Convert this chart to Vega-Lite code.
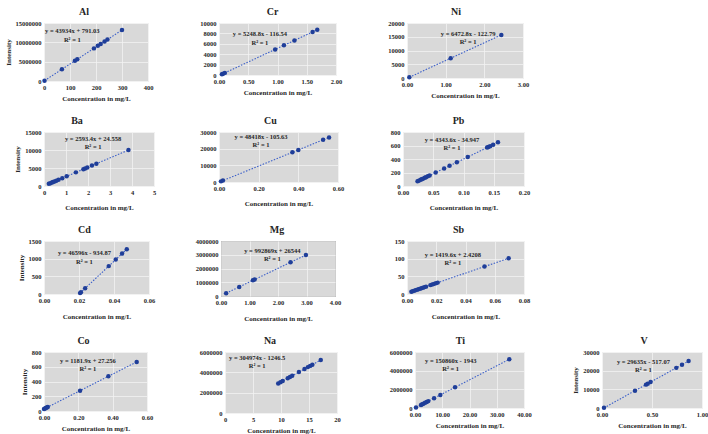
{
  "$schema": "https://vega.github.io/schema/vega-lite/v6.json",
  "background": "white",
  "padding": {"left": 3, "top": 6, "right": 0, "bottom": 0},
  "autosize": {"type": "pad"},
  "config": {
    "font": "Liberation Serif",
    "view": {"fill": "#d9d9d9", "stroke": "#efefef", "strokeWidth": 1},
    "axis": {
      "labelFont": "Liberation Serif", "labelFontSize": 6.5, "labelFontWeight": "bold", "labelColor": "#262626",
      "titleFont": "Liberation Serif", "titleFontSize": 7, "titleFontWeight": "bold", "titleColor": "#262626",
      "gridColor": "#f2f2f2", "gridWidth": 0.8, "domain": false, "ticks": false,
      "labelPadding": 3, "titlePadding": 4, "labelFlush": false, "labelOverlap": false
    },
    "title": {"font": "Liberation Serif", "fontSize": 10, "fontWeight": "bold", "color": "#262626", "offset": 3, "frame": "group", "anchor": "middle"},
    "circle": {"size": 20, "color": "#1f3e99", "opacity": 1},
    "line": {"color": "#3b5fc9", "strokeDash": [1.5, 1.5], "strokeWidth": 1.1},
    "text": {"font": "Liberation Serif", "fontSize": 6.5, "fontWeight": "bold", "baseline": "top", "align": "center", "lineHeight": 8.5, "color": "#262626", "lineBreak": "\n"}
  },
  "datasets": {
    "Al": [{"x":2,"y":88659},{"x":69,"y":3032237},{"x":119,"y":5228937},{"x":128,"y":5624343},{"x":192,"y":8435319},{"x":207,"y":9094329},{"x":218,"y":9577603},{"x":233,"y":10236613},{"x":244,"y":10719887},{"x":300,"y":13180991}],
    "Cr": [{"x":0.05,"y":146},{"x":0.07,"y":251},{"x":0.1,"y":408},{"x":0.96,"y":4922},{"x":1.11,"y":5710},{"x":1.29,"y":6654},{"x":1.6,"y":8282},{"x":1.68,"y":8701}],
    "Ni": [{"x":0.06,"y":266},{"x":1.13,"y":7191},{"x":2.44,"y":15672}],
    "Ba": [{"x":0.22,"y":595},{"x":0.29,"y":777},{"x":0.36,"y":958},{"x":0.41,"y":1088},{"x":0.48,"y":1269},{"x":0.56,"y":1477},{"x":0.66,"y":1736},{"x":0.83,"y":2177},{"x":1.03,"y":2696},{"x":1.45,"y":3785},{"x":1.79,"y":4667},{"x":1.87,"y":4874},{"x":1.97,"y":5134},{"x":2.18,"y":5678},{"x":2.38,"y":6197},{"x":3.84,"y":9983}],
    "Cu": [{"x":0.01,"y":379},{"x":0.02,"y":863},{"x":0.37,"y":17809},{"x":0.4,"y":19262},{"x":0.525,"y":25314},{"x":0.555,"y":26766}],
    "Pb": [{"x":0.024,"y":69.3},{"x":0.026,"y":78.0},{"x":0.029,"y":91.0},{"x":0.031,"y":99.7},{"x":0.033,"y":108.4},{"x":0.036,"y":121.4},{"x":0.038,"y":130.1},{"x":0.041,"y":143.1},{"x":0.044,"y":156.2},{"x":0.054,"y":199.6},{"x":0.068,"y":260.4},{"x":0.077,"y":299.5},{"x":0.089,"y":351.6},{"x":0.107,"y":429.8},{"x":0.139,"y":568.8},{"x":0.141,"y":577.5},{"x":0.144,"y":590.5},{"x":0.149,"y":612.3},{"x":0.157,"y":647.0}],
    "Cd": [{"x":0.0206,"y":25.0},{"x":0.0211,"y":48.3},{"x":0.0235,"y":160.1},{"x":0.037,"y":789.2},{"x":0.041,"y":975.6},{"x":0.0446,"y":1143.3},{"x":0.0473,"y":1269.1}],
    "Mg": [{"x":0.18,"y":205260},{"x":0.64,"y":661980},{"x":1.12,"y":1138557},{"x":1.18,"y":1198129},{"x":2.44,"y":2449144},{"x":2.98,"y":2985294}],
    "Sb": [{"x":0.003,"y":6.68},{"x":0.004,"y":8.1},{"x":0.005,"y":9.52},{"x":0.006,"y":10.94},{"x":0.007,"y":12.36},{"x":0.008,"y":13.78},{"x":0.009,"y":15.2},{"x":0.01,"y":16.62},{"x":0.011,"y":18.04},{"x":0.012,"y":19.46},{"x":0.013,"y":20.87},{"x":0.016,"y":25.13},{"x":0.017,"y":26.55},{"x":0.018,"y":27.97},{"x":0.019,"y":29.39},{"x":0.02,"y":30.81},{"x":0.021,"y":32.23},{"x":0.053,"y":77.66},{"x":0.0695,"y":101.08}],
    "Co": [{"x":0.0,"y":27.3},{"x":0.006,"y":34.3},{"x":0.011,"y":40.3},{"x":0.016,"y":46.2},{"x":0.022,"y":53.3},{"x":0.21,"y":275.5},{"x":0.375,"y":470.5},{"x":0.54,"y":665.5}],
    "Na": [{"x":9.5,"y":2896007},{"x":9.9,"y":3017996},{"x":10.3,"y":3139986},{"x":11.2,"y":3414462},{"x":11.6,"y":3536452},{"x":12.0,"y":3658442},{"x":13.2,"y":4024410},{"x":14.2,"y":4329384},{"x":14.8,"y":4512369},{"x":15.2,"y":4634358},{"x":15.6,"y":4756348},{"x":17.1,"y":5213809}],
    "Ti": [{"x":0.36,"y":52367},{"x":2.2,"y":329949},{"x":2.65,"y":397836},{"x":3.1,"y":465723},{"x":3.7,"y":556239},{"x":4.3,"y":646755},{"x":4.9,"y":737271},{"x":7.0,"y":1054077},{"x":9.3,"y":1401055},{"x":14.7,"y":2215699},{"x":34.6,"y":5217813}],
    "V": [{"x":0.02,"y":75.6},{"x":0.33,"y":9262.5},{"x":0.44,"y":12522.3},{"x":0.457,"y":13026.1},{"x":0.486,"y":13885.5},{"x":0.743,"y":21501.7},{"x":0.8,"y":23190.9},{"x":0.866,"y":25146.8}]
  },
  "spacing": 13,
  "vconcat": [
    {
      "bounds": "flush", "spacing": 71,
      "hconcat": [
        {
          "title": {"text": "Al", "dx": -12}, "width": 104, "height": 58, "data": {"name": "Al"},
          "encoding": {
            "x": {"field": "x", "type": "quantitative", "scale": {"domain": [0, 400], "nice": false}, "axis": {"values": [0, 100, 200, 300, 400], "format": "d", "title": "Concentration in mg/L"}},
            "y": {"field": "y", "type": "quantitative", "scale": {"domain": [0, 15000000], "nice": false}, "axis": {"values": [0, 5000000, 10000000, 15000000], "format": "d", "title": "Intensity"}}
          },
          "layer": [
            {"transform": [{"regression": "y", "on": "x"}], "mark": {"type": "line"}},
            {"mark": {"type": "circle"}},
            {"transform": [{"aggregate": [{"op": "max", "field": "x", "as": "x"}, {"op": "max", "field": "y", "as": "y"}]}], "mark": {"type": "text", "text": "y = 43934x + 791.03\nR² = 1"}, "encoding": {"x": {"datum": 109}, "y": {"datum": 13700000}}}
          ]
        },
        {
          "title": {"text": "Cr", "dx": -5}, "width": 117, "height": 52, "data": {"name": "Cr"},
          "encoding": {
            "x": {"field": "x", "type": "quantitative", "scale": {"domain": [0, 2], "nice": false}, "axis": {"values": [0, 0.5, 1, 1.5, 2], "format": ".2f", "title": "Concentration in mg/L"}},
            "y": {"field": "y", "type": "quantitative", "scale": {"domain": [0, 10000], "nice": false}, "axis": {"values": [0, 2000, 4000, 6000, 8000, 10000], "format": "d", "title": null}}
          },
          "layer": [
            {"transform": [{"regression": "y", "on": "x"}], "mark": {"type": "line"}},
            {"mark": {"type": "circle"}},
            {"transform": [{"aggregate": [{"op": "max", "field": "x", "as": "x"}, {"op": "max", "field": "y", "as": "y"}]}], "mark": {"type": "text", "text": "y = 5248.8x - 116.54\nR² = 1"}, "encoding": {"x": {"datum": 0.7}, "y": {"datum": 8370}}}
          ]
        },
        {
          "title": {"text": "Ni", "dx": -9}, "width": 116, "height": 55, "data": {"name": "Ni"},
          "encoding": {
            "x": {"field": "x", "type": "quantitative", "scale": {"domain": [0, 3], "nice": false}, "axis": {"values": [0, 1, 2, 3], "format": ".2f", "title": "Concentration in mg/L"}},
            "y": {"field": "y", "type": "quantitative", "scale": {"domain": [0, 20000], "nice": false}, "axis": {"values": [0, 5000, 10000, 15000, 20000], "format": "d", "title": null}}
          },
          "layer": [
            {"transform": [{"regression": "y", "on": "x"}], "mark": {"type": "line"}},
            {"mark": {"type": "circle"}},
            {"transform": [{"aggregate": [{"op": "max", "field": "x", "as": "x"}, {"op": "max", "field": "y", "as": "y"}]}], "mark": {"type": "text", "text": "y = 6472.8x - 122.79\nR² = 1"}, "encoding": {"x": {"datum": 1.58}, "y": {"datum": 17200}}}
          ]
        }
      ]
    },
    {
      "bounds": "flush", "spacing": 65,
      "hconcat": [
        {
          "title": {"text": "Ba", "dx": -22}, "width": 110, "height": 54, "data": {"name": "Ba"},
          "encoding": {
            "x": {"field": "x", "type": "quantitative", "scale": {"domain": [0, 5], "nice": false}, "axis": {"values": [0, 1, 2, 3, 4, 5], "format": "d", "title": "Concentration in mg/L", "titlePadding": 8}},
            "y": {"field": "y", "type": "quantitative", "scale": {"domain": [0, 15000], "nice": false}, "axis": {"values": [0, 5000, 10000, 15000], "format": "d", "title": "Intensity"}}
          },
          "layer": [
            {"transform": [{"regression": "y", "on": "x"}], "mark": {"type": "line"}},
            {"mark": {"type": "circle"}},
            {"transform": [{"aggregate": [{"op": "max", "field": "x", "as": "x"}, {"op": "max", "field": "y", "as": "y"}]}], "mark": {"type": "text", "text": "y = 2593.4x + 24.558\nR² = 1"}, "encoding": {"x": {"datum": 2.23}, "y": {"datum": 13900}}}
          ]
        },
        {
          "title": {"text": "Cu", "dx": -8}, "width": 119, "height": 50, "data": {"name": "Cu"},
          "encoding": {
            "x": {"field": "x", "type": "quantitative", "scale": {"domain": [0, 0.6], "nice": false}, "axis": {"values": [0, 0.2, 0.4, 0.6], "format": ".2f", "title": "Concentration in mg/L", "titlePadding": 8}},
            "y": {"field": "y", "type": "quantitative", "scale": {"domain": [0, 30000], "nice": false}, "axis": {"values": [0, 10000, 20000, 30000], "format": "d", "title": null}}
          },
          "layer": [
            {"transform": [{"regression": "y", "on": "x"}], "mark": {"type": "line"}},
            {"mark": {"type": "circle"}},
            {"transform": [{"aggregate": [{"op": "max", "field": "x", "as": "x"}, {"op": "max", "field": "y", "as": "y"}]}], "mark": {"type": "text", "text": "y = 48418x - 105.63\nR² = 1"}, "encoding": {"x": {"datum": 0.212}, "y": {"datum": 29000}}}
          ]
        },
        {
          "title": {"text": "Pb", "dx": -5}, "width": 121, "height": 54, "data": {"name": "Pb"},
          "encoding": {
            "x": {"field": "x", "type": "quantitative", "scale": {"domain": [0, 0.2], "nice": false}, "axis": {"values": [0, 0.05, 0.1, 0.15, 0.2], "format": ".2f", "title": "Concentration in mg/L", "titlePadding": 8}},
            "y": {"field": "y", "type": "quantitative", "scale": {"domain": [0, 800], "nice": false}, "axis": {"values": [0, 200, 400, 600, 800], "format": "d", "title": null}}
          },
          "layer": [
            {"transform": [{"regression": "y", "on": "x"}], "mark": {"type": "line"}},
            {"mark": {"type": "circle"}},
            {"transform": [{"aggregate": [{"op": "max", "field": "x", "as": "x"}, {"op": "max", "field": "y", "as": "y"}]}], "mark": {"type": "text", "text": "y = 4343.6x - 34.947\nR² = 1"}, "encoding": {"x": {"datum": 0.081}, "y": {"datum": 726}}}
          ]
        }
      ]
    },
    {
      "bounds": "flush", "spacing": 72,
      "hconcat": [
        {
          "title": {"text": "Cd", "dx": -12}, "width": 105, "height": 53, "data": {"name": "Cd"},
          "encoding": {
            "x": {"field": "x", "type": "quantitative", "scale": {"domain": [0, 0.06], "nice": false}, "axis": {"values": [0, 0.02, 0.04, 0.06], "format": ".2f", "title": "Concentration in mg/L", "titlePadding": 9}},
            "y": {"field": "y", "type": "quantitative", "scale": {"domain": [0, 1500], "nice": false}, "axis": {"values": [0, 500, 1000, 1500], "format": "d", "title": "Intensity"}}
          },
          "layer": [
            {"transform": [{"regression": "y", "on": "x"}], "mark": {"type": "line"}},
            {"mark": {"type": "circle"}},
            {"transform": [{"aggregate": [{"op": "max", "field": "x", "as": "x"}, {"op": "max", "field": "y", "as": "y"}]}], "mark": {"type": "text", "text": "y = 46596x - 934.87\nR² = 1"}, "encoding": {"x": {"datum": 0.0231}, "y": {"datum": 1241}}}
          ]
        },
        {
          "title": {"text": "Mg", "dx": -1}, "width": 114, "height": 55, "data": {"name": "Mg"},
          "view": {"stroke": "#404040", "strokeWidth": 1},
          "encoding": {
            "x": {"field": "x", "type": "quantitative", "scale": {"domain": [0, 4], "nice": false}, "axis": {"values": [0, 1, 2, 3, 4], "format": ".2f", "title": "Concentration in mg/L", "titlePadding": 9}},
            "y": {"field": "y", "type": "quantitative", "scale": {"domain": [0, 4000000], "nice": false}, "axis": {"values": [0, 1000000, 2000000, 3000000, 4000000], "format": "d", "title": null}}
          },
          "layer": [
            {"transform": [{"regression": "y", "on": "x"}], "mark": {"type": "line"}},
            {"mark": {"type": "circle"}},
            {"transform": [{"aggregate": [{"op": "max", "field": "x", "as": "x"}, {"op": "max", "field": "y", "as": "y"}]}], "mark": {"type": "text", "text": "y = 992869x + 26544\nR² = 1"}, "encoding": {"x": {"datum": 1.8}, "y": {"datum": 3510000}}}
          ]
        },
        {
          "title": {"text": "Sb", "dx": -7}, "width": 117, "height": 53, "data": {"name": "Sb"},
          "encoding": {
            "x": {"field": "x", "type": "quantitative", "scale": {"domain": [0, 0.08], "nice": false}, "axis": {"values": [0, 0.02, 0.04, 0.06, 0.08], "format": ".2f", "title": "Concentration in mg/L", "titlePadding": 9}},
            "y": {"field": "y", "type": "quantitative", "scale": {"domain": [0, 150], "nice": false}, "axis": {"values": [0, 50, 100, 150], "format": "d", "title": null}}
          },
          "layer": [
            {"transform": [{"regression": "y", "on": "x"}], "mark": {"type": "line"}},
            {"mark": {"type": "circle"}},
            {"transform": [{"aggregate": [{"op": "max", "field": "x", "as": "x"}, {"op": "max", "field": "y", "as": "y"}]}], "mark": {"type": "text", "text": "y = 1419.6x + 2.4208\nR² = 1"}, "encoding": {"x": {"datum": 0.0314}, "y": {"datum": 120}}}
          ]
        }
      ]
    },
    {
      "bounds": "flush", "spacing": 78,
      "hconcat": [
        {
          "title": {"text": "Co", "dx": -12}, "width": 103, "height": 59, "data": {"name": "Co"},
          "encoding": {
            "x": {"field": "x", "type": "quantitative", "scale": {"domain": [0, 0.6], "nice": false}, "axis": {"values": [0, 0.2, 0.4, 0.6], "format": ".2f", "title": "Concentration in mg/L"}},
            "y": {"field": "y", "type": "quantitative", "scale": {"domain": [0, 800], "nice": false}, "axis": {"values": [0, 200, 400, 600, 800], "format": "d", "title": "Intensity"}}
          },
          "layer": [
            {"transform": [{"regression": "y", "on": "x"}], "mark": {"type": "line"}},
            {"mark": {"type": "circle"}},
            {"transform": [{"aggregate": [{"op": "max", "field": "x", "as": "x"}, {"op": "max", "field": "y", "as": "y"}]}], "mark": {"type": "text", "text": "y = 1181.9x + 27.256\nR² = 1"}, "encoding": {"x": {"datum": 0.256}, "y": {"datum": 722}}}
          ]
        },
        {
          "title": {"text": "Na", "dx": -11}, "width": 112, "height": 61, "data": {"name": "Na"},
          "encoding": {
            "x": {"field": "x", "type": "quantitative", "scale": {"domain": [0, 20], "nice": false}, "axis": {"values": [0, 5, 10, 15, 20], "format": "d", "title": "Concentration in mg/L"}},
            "y": {"field": "y", "type": "quantitative", "scale": {"domain": [0, 6000000], "nice": false}, "axis": {"values": [0, 2000000, 4000000, 6000000], "format": "d", "title": null}}
          },
          "layer": [
            {"transform": [{"regression": "y", "on": "x"}], "mark": {"type": "line"}},
            {"mark": {"type": "circle"}},
            {"transform": [{"aggregate": [{"op": "max", "field": "x", "as": "x"}, {"op": "max", "field": "y", "as": "y"}]}], "mark": {"type": "text", "text": "y = 304974x - 1246.5\nR² = 1"}, "encoding": {"x": {"datum": 5.74}, "y": {"datum": 5740000}}}
          ]
        },
        {
          "title": {"text": "Ti", "dx": -9}, "width": 109, "height": 56, "data": {"name": "Ti"},
          "encoding": {
            "x": {"field": "x", "type": "quantitative", "scale": {"domain": [0, 40], "nice": false}, "axis": {"values": [0, 10, 20, 30, 40], "format": ".2f", "title": "Concentration in mg/L"}},
            "y": {"field": "y", "type": "quantitative", "scale": {"domain": [0, 6000000], "nice": false}, "axis": {"values": [0, 2000000, 4000000, 6000000], "format": "d", "title": null}}
          },
          "layer": [
            {"transform": [{"regression": "y", "on": "x"}], "mark": {"type": "line"}},
            {"mark": {"type": "circle"}},
            {"transform": [{"aggregate": [{"op": "max", "field": "x", "as": "x"}, {"op": "max", "field": "y", "as": "y"}]}], "mark": {"type": "text", "text": "y = 150860x - 1943\nR² = 1"}, "encoding": {"x": {"datum": 13.1}, "y": {"datum": 5360000}}}
          ]
        },
        {
          "title": {"text": "V", "dx": -8}, "width": 100, "height": 56, "data": {"name": "V"},
          "encoding": {
            "x": {"field": "x", "type": "quantitative", "scale": {"domain": [0, 1], "nice": false}, "axis": {"values": [0, 0.5, 1], "format": ".2f", "title": "Concentration in mg/L"}},
            "y": {"field": "y", "type": "quantitative", "scale": {"domain": [0, 30000], "nice": false}, "axis": {"values": [0, 10000, 20000, 30000], "format": "d", "title": "Intensity"}}
          },
          "layer": [
            {"transform": [{"regression": "y", "on": "x"}], "mark": {"type": "line"}},
            {"mark": {"type": "circle"}},
            {"transform": [{"aggregate": [{"op": "max", "field": "x", "as": "x"}, {"op": "max", "field": "y", "as": "y"}]}], "mark": {"type": "text", "text": "y = 29635x - 517.07\nR² = 1"}, "encoding": {"x": {"datum": 0.414}, "y": {"datum": 26340}}}
          ]
        }
      ]
    }
  ]
}
